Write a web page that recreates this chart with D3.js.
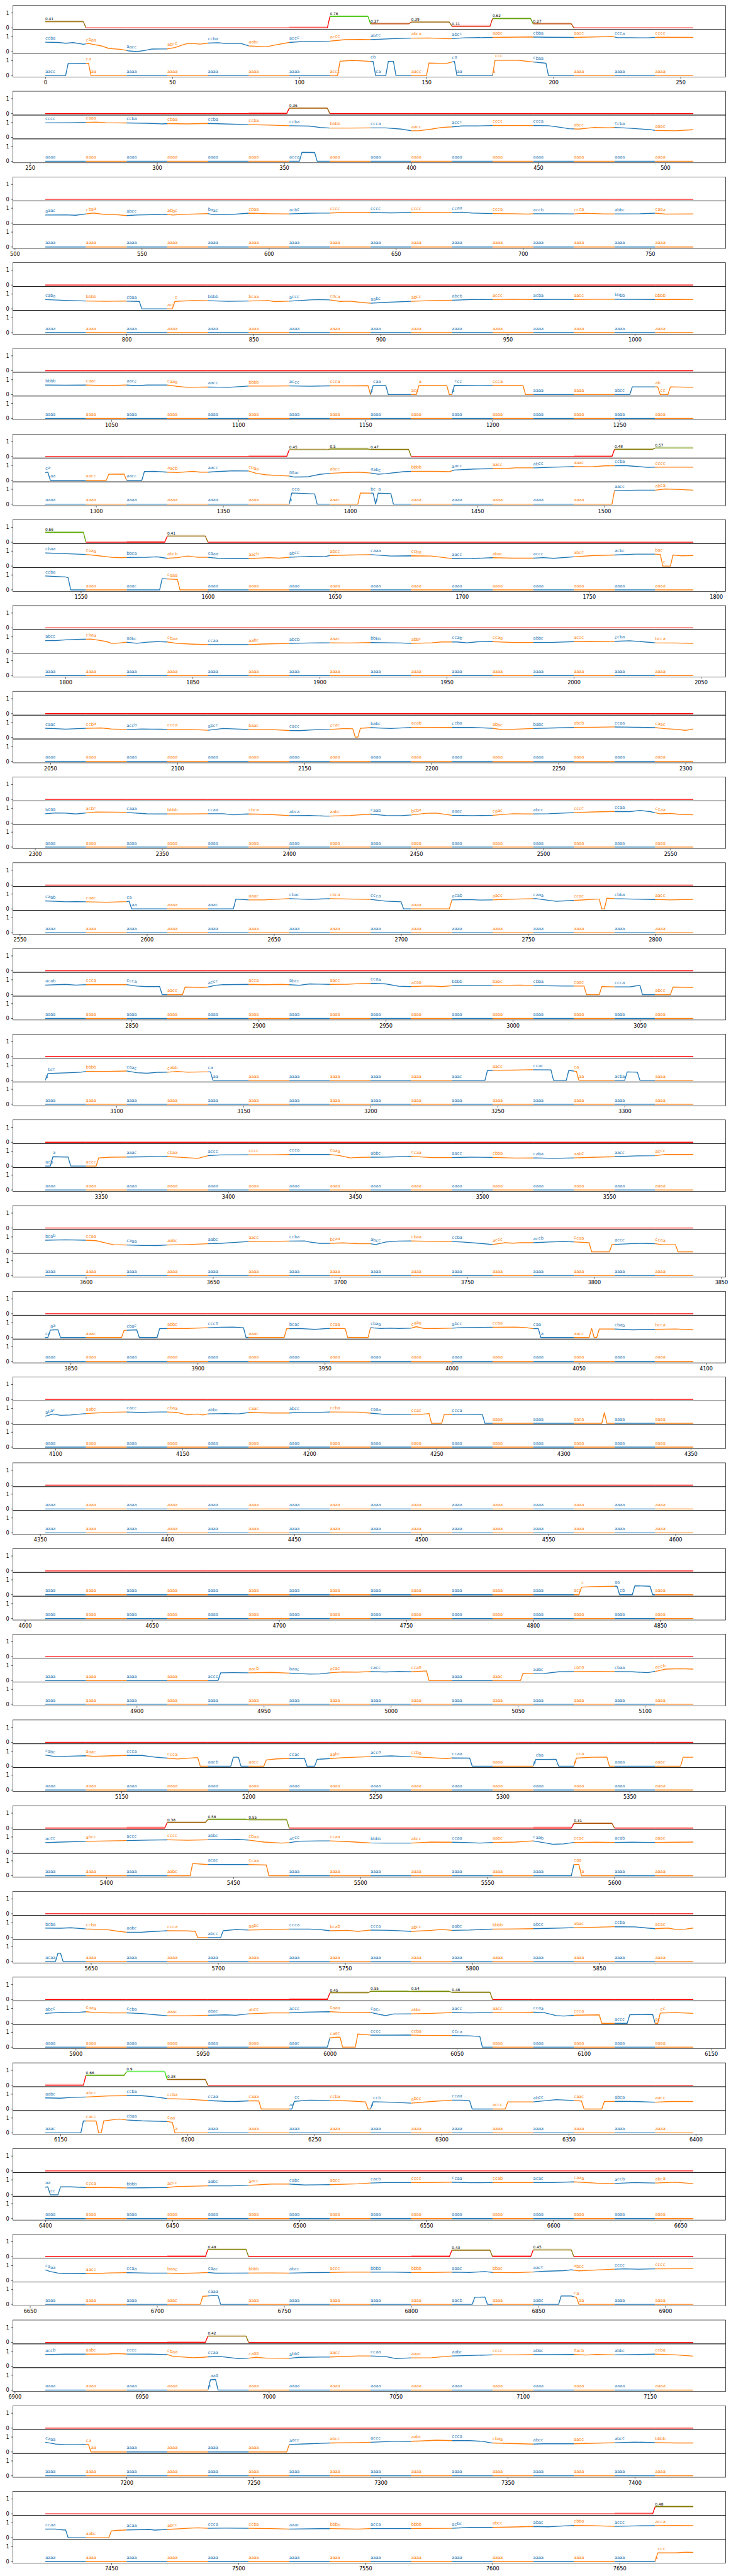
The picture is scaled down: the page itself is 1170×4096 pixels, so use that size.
<!DOCTYPE html>
<html><head><meta charset="utf-8">
<script src="https://cdn.jsdelivr.net/npm/d3@7"></script>
<style>body{margin:0;background:#fff} svg{display:block} text{font-family:"DejaVu Sans",sans-serif}</style>
</head><body>
<script>
// ---------- DATA ----------
const topScores = [
[0.41,0,0,0,0,0,0,0.76,0.27,0.39,0.11,0.62,0.27,0,0,0],
[0,0,0,0,0,0,0.36,0,0,0,0,0,0,0,0,0],
[0,0,0,0,0,0,0,0,0,0,0,0,0,0,0,0],
[0,0,0,0,0,0,0,0,0,0,0,0,0,0,0,0],
[0,0,0,0,0,0,0,0,0,0,0,0,0,0,0,0],
[0,0,0,0,0,0,0.45,0.5,0.47,0,0,0,0,0,0.48,0.57],
[0.66,0,0,0.41,0,0,0,0,0,0,0,0,0,0,0,0],
[0,0,0,0,0,0,0,0,0,0,0,0,0,0,0,0],
[0,0,0,0,0,0,0,0,0,0,0,0,0,0,0,0],
[0,0,0,0,0,0,0,0,0,0,0,0,0,0,0,0],
[0,0,0,0,0,0,0,0,0,0,0,0,0,0,0,0],
[0,0,0,0,0,0,0,0,0,0,0,0,0,0,0,0],
[0,0,0,0,0,0,0,0,0,0,0,0,0,0,0,0],
[0,0,0,0,0,0,0,0,0,0,0,0,0,0,0,0],
[0,0,0,0,0,0,0,0,0,0,0,0,0,0,0,0],
[0,0,0,0,0,0,0,0,0,0,0,0,0,0,0,0],
[0,0,0,0,0,0,0,0,0,0,0,0,0,0,0,0],
[0,0,0,0,0,0,0,0,0,0,0,0,0,0,0,0],
[0,0,0,0,0,0,0,0,0,0,0,0,0,0,0,0],
[0,0,0,0,0,0,0,0,0,0,0,0,0,0,0,0],
[0,0,0,0,0,0,0,0,0,0,0,0,0,0,0,0],
[0,0,0,0.38,0.58,0.55,0,0,0,0,0,0,0,0.31,0,0],
[0,0,0,0,0,0,0,0,0,0,0,0,0,0,0,0],
[0,0,0,0,0,0,0,0.45,0.55,0.54,0.48,0,0,0,0,0],
[0,0.66,0.9,0.38,0,0,0,0,0,0,0,0,0,0,0,0],
[0,0,0,0,0,0,0,0,0,0,0,0,0,0,0,0],
[0,0,0,0,0.49,0,0,0,0,0,0.43,0,0.45,0,0,0],
[0,0,0,0,0.42,0,0,0,0,0,0,0,0,0,0,0],
[0,0,0,0,0,0,0,0,0,0,0,0,0,0,0,0],
[0,0,0,0,0,0,0,0,0,0,0,0,0,0,0,0.48]
];
const topPink = [[6],[5],[],[],[],[5,13],[2],[],[],[],[],[],[],[],[],[],[],[],[],[],[],[2,12],[],[6],[0],[],[3,9,11],[3],[],[14]];

const allA = "aaaa aaaa aaaa aaaa aaaa aaaa aaaa aaaa aaaa aaaa aaaa aaaa aaaa aaaa aaaa aaaa";
const flat = [[0,0],[255,0]];

const midLines = [
[[0,.64],[5,.62],[8,.57],[11,.61],[15,.50],[17,.55],[22,.39],[25,.22],[30,.15],[33,.05],[36,.01],[39,.08],[42,.18],[48,.19],[51,.28],[55,.51],[57,.56],[61,.51],[64,.58],[68,.60],[71,.55],[77,.55],[80,.39],[87,.33],[91,.47],[96,.62],[101,.68],[112,.71],[115,.76],[118,.81],[124,.82],[128,.81],[136,.87],[144,.91],[151,.92],[159,.87],[165,.93],[176,.96],[191,.99],[197,.97],[208,.96],[223,1.02],[225,.95],[237,.93],[241,.97],[255,.96]],
[[0,.98],[10,.99],[16,1.01],[20,1.03],[24,.99],[32,.97],[40,.95],[46,.91],[48,.93],[56,.91],[64,.94],[72,.90],[80,.86],[88,.83],[96,.79],[104,.76],[108,.67],[112,.63],[120,.63],[128,.64],[134,.64],[140,.56],[144,.45],[147,.45],[152,.56],[156,.67],[160,.71],[164,.77],[170,.77],[176,.80],[192,.80],[198,.79],[203,.67],[206,.59],[210,.56],[216,.67],[222,.65],[224,.67],[230,.62],[238,.52],[240,.47],[248,.45],[255,.52]],
[[0,.55],[8,.56],[12,.53],[16,.62],[19,.68],[24,.57],[28,.57],[32,.51],[36,.55],[48,.59],[50,.55],[56,.60],[64,.64],[66,.57],[72,.57],[80,.67],[88,.63],[96,.62],[104,.67],[112,.68],[116,.71],[128,.71],[136,.69],[144,.71],[152,.71],[160,.70],[164,.74],[168,.68],[176,.64],[184,.63],[190,.61],[192,.63],[200,.63],[208,.62],[212,.66],[220,.62],[234,.63],[240,.67],[244,.61],[255,.62]],
[[0,.62],[8,.57],[16,.53],[24,.51],[30,.53],[37,.50],[38,0],[50,0],[51,.50],[58,.56],[64,.55],[72,.51],[80,.53],[88,.56],[90,.49],[96,.52],[104,.60],[108,.62],[112,.60],[116,.50],[120,.52],[124,.44],[128,.38],[134,.44],[144,.51],[152,.56],[160,.58],[168,.63],[176,.62],[184,.65],[192,.63],[200,.64],[208,.62],[216,.65],[224,.65],[240,.63],[248,.64],[255,.62]],
[[0,.64],[8,.63],[16,.64],[24,.60],[32,.64],[36,.60],[40,.64],[48,.64],[52,.55],[56,.49],[64,.51],[72,.49],[80,.57],[88,.57],[96,.58],[104,.56],[112,.59],[120,.59],[127,.60],[128,0],[129,.6],[134,.6],[135,0],[146,0],[147,.6],[158,.6],[159,0],[160,0],[161,.62],[176,.60],[188,.60],[189,0],[230,0],[231,.52],[241,.52],[242,0],[245,0],[246,.52],[255,.49]],
[[0,.52],[1,.55],[2,0],[24,0],[25,.41],[31,.42],[32,0],[38,0],[39,.59],[43,.60],[48,.55],[52,.52],[58,.60],[61,.55],[64,.55],[69,.60],[74,.64],[80,.63],[83,.47],[87,.37],[93,.31],[96,.29],[98,.22],[103,.23],[108,.40],[112,.47],[117,.51],[123,.55],[128,.49],[131,.41],[134,.45],[141,.58],[144,.60],[154,.60],[159,.58],[161,.69],[169,.76],[176,.78],[182,.80],[185,.84],[193,.84],[200,.88],[208,.92],[215,.91],[220,.97],[228,.99],[233,.93],[237,.87],[241,.88],[255,.88]],
[[0,.88],[8,.83],[16,.78],[20,.71],[26,.59],[30,.56],[32,.58],[40,.59],[44,.62],[48,.52],[52,.57],[56,.67],[60,.59],[64,.59],[68,.52],[72,.51],[80,.50],[88,.57],[92,.53],[96,.59],[104,.65],[110,.63],[112,.71],[120,.74],[128,.77],[136,.67],[144,.69],[152,.67],[160,.50],[168,.51],[176,.56],[184,.53],[192,.53],[196,.57],[200,.52],[208,.62],[216,.71],[224,.74],[232,.80],[240,.80],[242,.78],[243,0],[246,0],[247,.74],[250,.69],[255,.71]],
[[0,.75],[4,.75],[8,.80],[14,.84],[18,.85],[20,.80],[24,.69],[26,.57],[28,.57],[32,.64],[36,.57],[40,.64],[44,.68],[48,.66],[52,.56],[58,.51],[64,.48],[80,.48],[86,.52],[96,.56],[104,.59],[112,.60],[120,.59],[128,.62],[136,.60],[140,.59],[144,.56],[152,.60],[156,.66],[162,.66],[166,.60],[170,.67],[176,.68],[184,.62],[192,.62],[200,.63],[208,.68],[214,.70],[218,.69],[224,.70],[230,.74],[236,.66],[240,.60],[248,.59],[255,.56]],
[[0,.62],[4,.59],[8,.56],[14,.60],[16,.62],[22,.64],[26,.57],[32,.53],[38,.57],[42,.56],[48,.55],[56,.55],[64,.49],[70,.60],[80,.54],[88,.54],[96,.47],[100,.46],[106,.52],[112,.54],[118,.60],[121,.58],[122,.02],[123,.02],[124,.62],[128,.66],[136,.60],[144,.68],[152,.68],[160,.67],[168,.68],[176,.62],[180,.52],[184,.55],[192,.60],[200,.64],[208,.68],[216,.69],[224,.71],[232,.69],[240,.66],[244,.59],[248,.55],[252,.48],[255,.57]],
[[0,.64],[4,.69],[8,.68],[12,.62],[16,.69],[20,.75],[28,.74],[32,.72],[40,.63],[48,.62],[56,.62],[64,.64],[70,.64],[74,.56],[78,.61],[80,.62],[88,.59],[96,.51],[104,.52],[110,.48],[112,.48],[120,.52],[128,.61],[134,.52],[140,.51],[144,.55],[150,.67],[154,.68],[160,.53],[168,.51],[176,.53],[184,.64],[190,.62],[198,.64],[208,.71],[216,.76],[224,.79],[230,.78],[234,.86],[238,.78],[242,.63],[246,.66],[250,.59],[255,.56]],
[[0,.54],[4,.51],[8,.48],[12,.49],[16,.48],[24,.45],[32,.49],[33,.52],[34,0],[74,0],[75,.66],[80,.61],[86,.61],[96,.69],[104,.64],[112,.69],[121,.66],[128,.64],[134,.52],[140,.48],[141,0],[159,0],[160,.61],[167,.63],[171,.60],[176,.61],[185,.66],[193,.69],[201,.51],[208,.57],[217,.66],[218,.66],[219,0],[220,0],[221,.72],[224,.69],[231,.66],[241,.63],[246,.61],[255,.64]],
[[0,.64],[8,.69],[12,.64],[16,.67],[32,.67],[36,.58],[40,.54],[45,.54],[46,0],[54,0],[55,.51],[62,.49],[64,.51],[67,.63],[70,.67],[80,.69],[86,.67],[93,.69],[96,.67],[100,.63],[104,.72],[112,.69],[119,.70],[124,.75],[130,.76],[134,.72],[139,.57],[144,.54],[148,.57],[152,.58],[156,.54],[160,.60],[167,.61],[176,.61],[182,.63],[187,.64],[193,.61],[204,.58],[212,.58],[213,0],[218,0],[219,.54],[224,.52],[230,.52],[234,.63],[235,0],[246,0],[247,.51],[255,.49]],
[[0,0],[1,.45],[4,.48],[10,.52],[14,.55],[16,.60],[24,.60],[32,.63],[36,.52],[40,.48],[44,.54],[48,.55],[52,.60],[56,.55],[62,.57],[65,.57],[66,0],[173,0],[174,.67],[185,.69],[191,.72],[199,.70],[200,0],[205,0],[206,.67],[209,.60],[210,0],[228,0],[229,.57],[233,.55],[234,0],[255,0]],
[[0,0],[2,0],[3,.63],[8,.61],[9,.61],[10,0],[20,0],[21,.55],[26,.60],[32,.61],[41,.63],[48,.64],[54,.58],[60,.52],[64,.70],[69,.75],[80,.76],[89,.76],[96,.78],[112,.78],[116,.70],[120,.55],[123,.58],[128,.60],[135,.61],[144,.66],[152,.57],[160,.57],[167,.60],[176,.58],[185,.54],[193,.55],[200,.52],[208,.55],[217,.60],[224,.63],[233,.69],[240,.70],[244,.78],[255,.78]],
[[0,.78],[8,.81],[16,.78],[20,.75],[25,.54],[27,.48],[32,.46],[38,.43],[44,.42],[48,.46],[56,.49],[64,.54],[69,.57],[75,.64],[80,.69],[89,.70],[96,.72],[102,.73],[104,.66],[108,.57],[112,.57],[117,.60],[123,.55],[128,.54],[130,.49],[134,.66],[139,.72],[144,.73],[152,.70],[160,.69],[164,.66],[171,.57],[176,.49],[181,.61],[184,.58],[187,.61],[192,.61],[198,.66],[204,.69],[209,.66],[214,.61],[215,0],[222,0],[223,.49],[230,.54],[235,.57],[240,.54],[243,.48],[248,.48],[249,0],[255,0]],
[[0,0],[1,0],[2,.5],[4,.52],[5,.52],[6,0],[30,0],[31,.48],[36,.52],[37,0],[44,0],[45,.60],[48,.61],[56,.61],[64,.66],[69,.69],[74,.70],[78,.66],[79,0],[94,0],[95,.60],[100,.61],[106,.55],[111,.61],[118,.61],[119,0],[127,0],[128,.66],[132,.61],[136,.63],[139,.61],[144,.63],[146,.73],[149,.61],[154,.61],[160,.63],[164,.67],[176,.69],[185,.70],[189,.67],[192,.60],[194,.61],[195,0],[214,0],[215,.61],[216,0],[217,0],[218,.57],[224,.57],[231,.52],[240,.55],[248,.58],[255,.52]],
[[0,.47],[3,.62],[6,.54],[10,.56],[16,.65],[25,.74],[32,.76],[38,.72],[41,.75],[48,.76],[52,.72],[56,.57],[60,.62],[62,.56],[64,.63],[71,.65],[76,.63],[80,.72],[89,.69],[96,.69],[100,.74],[108,.74],[112,.76],[123,.75],[128,.68],[134,.59],[144,.60],[148,.60],[151,.65],[152,0],[156,0],[157,.59],[163,.60],[172,.59],[173,0],[219,0],[220,.71],[221,0],[255,0]],
[[0,0],[255,0]],
[[0,0],[210,0],[211,.51],[215,.54],[224,.57],[225,.57],[226,0],[231,0],[232,.60],[238,.57],[239,0],[255,0]],
[[0,0],[68,0],[69,.51],[74,.52],[80,.51],[89,.54],[96,.49],[104,.43],[108,.44],[112,.51],[117,.57],[123,.56],[128,.60],[134,.57],[139,.61],[144,.58],[150,.64],[151,0],[187,0],[188,.48],[192,.45],[196,.46],[202,.58],[208,.60],[217,.61],[224,.60],[231,.58],[237,.52],[241,.64],[244,.76],[250,.79],[255,.76]],
[[0,.75],[4,.64],[10,.67],[16,.70],[19,.66],[25,.69],[32,.72],[38,.72],[43,.61],[48,.54],[52,.48],[59,.57],[60,.57],[61,0],[73,0],[74,.6],[76,.6],[77,0],[86,0],[87,.42],[91,.49],[96,.52],[102,.52],[103,0],[106,0],[107,.46],[112,.51],[117,.57],[128,.64],[136,.69],[144,.63],[152,.57],[158,.51],[160,.55],[167,.54],[168,0],[192,0],[193,.45],[201,.46],[202,0],[208,0],[209,.54],[215,.60],[221,.61],[222,0],[250,0],[251,.6],[255,.6]],
[[0,.62],[6,.66],[16,.71],[25,.74],[32,.76],[41,.79],[48,.81],[56,.78],[64,.81],[76,.84],[80,.79],[86,.66],[93,.59],[96,.62],[100,.72],[108,.74],[112,.74],[119,.69],[123,.65],[128,.60],[134,.59],[144,.59],[152,.66],[160,.65],[167,.62],[171,.59],[176,.63],[185,.66],[192,.74],[196,.62],[200,.51],[204,.54],[208,.63],[217,.65],[224,.63],[231,.65],[240,.63],[248,.65],[255,.66]],
[[0,.64],[6,.63],[10,.66],[16,.58],[25,.52],[29,.42],[32,.36],[38,.36],[41,.40],[48,.46],[56,.45],[59,.42],[60,0],[69,0],[70,.46],[75,.54],[80,.51],[89,.54],[96,.57],[104,.57],[108,.54],[112,.46],[119,.49],[123,.42],[128,.51],[136,.49],[144,.42],[152,.49],[156,.55],[160,.49],[167,.51],[176,.57],[185,.58],[192,.60],[200,.63],[208,.67],[217,.70],[224,.73],[232,.72],[237,.64],[240,.60],[245,.64],[248,.55],[252,.57],[255,.64]],
[[0,.67],[6,.73],[12,.72],[16,.78],[19,.73],[25,.70],[32,.70],[38,.66],[43,.58],[48,.51],[56,.51],[64,.54],[71,.57],[75,.54],[80,.64],[89,.70],[96,.70],[102,.75],[112,.78],[119,.72],[128,.73],[132,.58],[134,.52],[137,.63],[144,.64],[152,.67],[160,.72],[167,.70],[176,.72],[185,.72],[192,.75],[196,.73],[201,.52],[204,.49],[209,.55],[218,.57],[219,0],[229,0],[230,.58],[239,.6],[240,0],[241,0],[242,.69],[248,.72],[255,.67]],
[[0,.75],[6,.73],[10,.78],[16,.81],[25,.88],[32,.90],[38,.90],[43,.82],[48,.70],[56,.66],[64,.57],[71,.52],[75,.51],[80,.55],[84,.55],[85,0],[97,0],[98,.52],[104,.6],[112,.58],[119,.55],[126,.48],[127,0],[128,0],[129,.49],[136,.46],[144,.40],[152,.51],[160,.60],[164,.60],[167,.55],[168,0],[181,0],[182,.48],[192,.48],[201,.63],[208,.58],[211,.54],[212,0],[219,0],[220,.51],[226,.52],[232,.51],[240,.46],[246,.51],[255,.51]],
[[0,.51],[1,.53],[2,0],[5,0],[6,.54],[10,.53],[16,.49],[25,.49],[32,.46],[38,.47],[48,.49],[52,.56],[56,.57],[64,.60],[73,.60],[80,.63],[89,.72],[96,.72],[102,.66],[112,.68],[123,.74],[128,.79],[134,.82],[152,.82],[160,.85],[167,.81],[176,.82],[200,.82],[208,.87],[217,.78],[224,.76],[232,.82],[240,.79],[248,.84],[255,.75]],
[[0,.71],[2,.60],[5,.50],[8,.46],[12,.46],[16,.47],[19,.46],[25,.51],[32,.53],[41,.50],[48,.50],[52,.47],[60,.51],[64,.54],[67,.49],[74,.50],[89,.51],[96,.50],[104,.53],[112,.54],[119,.56],[137,.56],[144,.54],[152,.54],[160,.56],[167,.54],[173,.60],[176,.54],[185,.53],[192,.57],[196,.62],[204,.66],[207,.72],[210,.65],[217,.71],[224,.76],[228,.78],[233,.76],[240,.78],[255,.79]],
[[0,.78],[8,.81],[16,.81],[25,.82],[28,.85],[32,.82],[41,.81],[48,.78],[50,.68],[52,.65],[58,.57],[62,.60],[64,.63],[69,.65],[73,.57],[76,.51],[80,.54],[83,.60],[87,.54],[96,.53],[100,.60],[112,.62],[123,.69],[128,.69],[134,.65],[138,.51],[144,.56],[152,.57],[160,.69],[167,.72],[176,.76],[185,.76],[192,.78],[200,.78],[208,.79],[213,.75],[217,.79],[224,.76],[231,.78],[240,.81],[248,.76],[255,.68]],
[[0,.65],[4,.53],[8,.49],[12,.49],[17,.50],[18,0],[95,0],[96,.50],[102,.54],[112,.60],[123,.63],[128,.65],[137,.71],[144,.72],[148,.74],[154,.79],[160,.76],[167,.76],[172,.71],[176,.60],[185,.56],[192,.53],[196,.55],[208,.55],[217,.59],[224,.62],[232,.66],[240,.63],[248,.60],[255,.60]],
[[0,.58],[4,.58],[7,.52],[8,.52],[9,0],[25,0],[26,.45],[28,.49],[32,.52],[41,.55],[43,.51],[48,.55],[56,.63],[60,.66],[64,.63],[71,.64],[80,.63],[89,.61],[96,.58],[112,.61],[123,.58],[128,.61],[139,.61],[160,.63],[167,.69],[176,.69],[185,.72],[192,.75],[198,.73],[204,.79],[208,.82],[215,.81],[224,.76],[232,.79],[240,.81],[248,.82],[255,.81]]
];

const midLabels = [
"ccba cbaa aacc abcc ccba aabc accc accc abcc abca abcc aabc cbba aacc ccca cccc",
"cccc caaa ccba cbaa ccba ccba ccba bbbb ccca aacc accc cccc ccca abcc ccba aaac",
"aaac cbaa abcc abbc baac cbaa acbc cccc cccc cccc ccaa ccca accb ccca abbc caaa",
"caba bbbb cbaa accc bbbb bcaa accc caca aabc abcc abcb accc acba aacc bbbb bbbb",
"bbbb caac aacc caaa aacc bbbb accc ccca ccaa acca accc ccca aaaa aaaa abcc abcc",
"caaa aacc aacc aacb aacc cbaa aaac abcc aabc bbbb aacc aacc abcc aaac ccba cccc",
"cbaa cbaa bbca abcb caaa aacb abcc abcc caaa ccba aacc abac accc abcc acbc bacc",
"abcc cbaa aabc cbaa ccaa aabc abcb aaac bbbb abbc ccab ccaa abbc accc ccba bcca",
"caac ccba accb ccca abcc baac cacc ccac babc acab ccba abbc babc abcb ccaa caac",
"bcaa acbc caaa bbbb ccaa cbca abca aabc caab bcba aaac caac abcc cccc ccaa ccaa",
"caab caac caaa aaaa aaac aaac cbac cbca ccca aaaa acab aacc caaa ccac cbba aacc",
"acab ccca ccca aacc accc acca abcc aacc ccaa acaa bbbb babc cbba caac ccca abcc",
"abcc bbbb caac cabb caaa aaaa aaaa aaaa aaaa aaaa aaac aacc ccac caaa acba aaaa",
"acba accc aaac cbaa accc cccc ccca cbaa abbc ccaa aacc cbba caba aabc aacc accc",
"bcab ccaa caaa aabc aabc aacc ccba bcaa abcc cbaa ccba accc accb ccaa accc ccaa",
"ccaa aaac cbac abbc ccca aaac bcac ccaa cbaa caaa abcc ccba caaa aacc cbab bcca",
"abac aabc cacc cbaa abbc caac abcc ccba caaa ccac ccca aaaa aaaa aaca aaaa aaaa",
allA,
"aaaa aaaa aaaa aaaa aaaa aaaa aaaa aaaa aaaa aaaa aaaa aaaa aaaa accc aacb aaaa",
"aaaa aaaa aaaa aaaa accc aacb baac acac cacc ccaa aaaa aaac aabc cbca cbaa accb",
"cabc aaac ccca ccca aacb aacc ccac aabc acca ccba ccaa aaaa acba acca aaaa aaac",
"accc abcc accc cccc abbc cbaa accc ccaa bbbb abcc ccaa aabc caab ccac acab aaac",
"bcba ccba aabc ccca abcc aabc ccca bcab ccca abcc aabc bbbb abcc abac ccba acac",
"abcc caaa ccba aaac abac abcc accc caaa cacc abbc aacc aacc ccaa ccca accc accc",
"aabc abcc ccba ccba ccaa caaa accc ccba accb abcc ccaa accc abcc caac abca aacc",
"aacc ccca bbbb accc aabc aacc cabc abcc cacb cccc ccaa ccab acac caaa accb abca",
"caaa aacc ccaa baac caac bbbb abcc accc bbbb bbbb aaac bbac aacc abcc cccc cccc",
"accb aabc cccc cbaa ccaa caaa abbc aacc ccaa aaac aabc cccc abbc aacb abbc ccba",
"caaa caaa aaaa aaaa aaaa aaaa aacc abcc accc aabc ccca cbaa abcc aacc abcc bbbb",
"ccaa aabc acaa abcc ccca ccba aaac bbbb acca bbbb acbc abcc abac cbba accc acca"
];

const botLines = [
[[0,0],[8,0],[9,.81],[17,.82],[18,0],[115,0],[116,.96],[121,1.02],[127,.96],[129,.95],[130,0],[134,0],[135,.95],[137,.95],[138,0],[150,0],[151,.84],[155,.82],[158,.82],[161,.95],[162,0],[176,0],[177,1.03],[186,1.03],[191,.93],[197,.83],[198,0],[255,0]],
[[0,0],[100,0],[101,.6],[106,.59],[107,0],[255,0]],
flat, flat, flat,
[[0,0],[96,0],[97,.75],[106,.69],[107,0],[123,0],[124,.75],[128,.74],[129,.74],[130,0],[131,.74],[136,.71],[137,0],[223,0],[224,.91],[233,.94],[240,.94],[244,1.02],[250,.98],[255,.94]],
[[0,.93],[8,.87],[9,.82],[10,0],[45,0],[46,.75],[52,.70],[53,0],[255,0]],
flat, flat, flat, flat, flat, flat, flat, flat, flat, flat, flat, flat, flat, flat,
[[0,0],[57,0],[58,.82],[63,.76],[69,.75],[80,.75],[87,.72],[88,0],[207,0],[208,.75],[210,.75],[211,0],[255,0]],
[[0,0],[4,0],[5,.55],[6,.55],[7,0],[255,0]],
[[0,0],[111,0],[112,.63],[115,.67],[116,.67],[117,0],[122,0],[123,.88],[128,.81],[135,.81],[143,.82],[148,.79],[160,.78],[167,.76],[171,.72],[172,0],[255,0]],
[[0,0],[14,0],[15,.8],[20,.8],[21,0],[22,0],[23,.8],[26,.87],[29,.93],[32,.87],[38,.81],[43,.79],[48,.76],[50,.71],[51,0],[255,0]],
flat,
[[0,0],[61,0],[62,.54],[63,.55],[66,.59],[68,.58],[69,0],[168,0],[169,.47],[173,.49],[174,0],[202,0],[203,.56],[207,.56],[209,.47],[210,0],[255,0]],
[[0,0],[64,0],[65,.69],[67,.71],[68,0],[255,0]],
flat,
[[0,0],[240,0],[241,.58],[248,.58],[252,.63],[255,.61]]
];

const botLabels = [
"aacc caaa aaaa aaaa aaaa aaaa aaaa accc cbca aacc caaa accc cbaa aaaa aaaa aaaa",
"aaaa aaaa aaaa aaaa aaaa aaaa acca aaaa aaaa aaaa aaaa aaaa aaaa aaaa aaaa aaaa",
allA, allA, allA,
"aaaa aaaa aaaa aaaa aaaa aaaa acca aaac bcca aaaa aaaa aaaa aaaa aaaa aacc abca",
"ccba aaaa aaac caaa aaaa aaaa aaaa aaaa aaaa aaaa aaaa aaaa aaaa aaaa aaaa aaaa",
allA, allA, allA, allA, allA, allA, allA, allA, allA, allA, allA, allA, allA, allA,
"aaaa aaaa aaaa aabc acac ccaa aaaa aaaa aaaa aaaa aaaa aaaa aaaa caaa aaaa aaaa",
"acaa aaaa aaaa aaaa aaaa aaaa aaaa aaaa aaaa aaaa aaaa aaaa aaaa aaaa aaaa aaaa",
"aaaa aaaa aaaa aaaa aaaa aaaa aaac caac cccc ccba ccca aaaa aaaa aaaa aaaa aaaa",
"aaac cacc cbaa caaa aaaa aaaa aaaa aaaa aaaa aaaa aaaa aaaa aaaa aaaa aaaa aaaa",
allA,
"aaaa aaaa aaaa aaac caaa aaaa aaaa aaaa aaaa aaaa aacb aaaa aabc caaa aaaa aaaa",
allA, allA,
"aaaa aaaa aaaa aaaa aaaa aaaa aaaa aaaa aaaa aaaa aaaa aaaa aaaa aaaa aaaa accc"
];

// ---------- LAYOUT ----------
const W = 2000, H = 7000, S = 0.585;
const L = 35, R = 1972, PT = 15, PITCH = 233, SH = 64.8;
const SEG = 16, SPAN = 256;
const blue = "#1f77b4", orange = "#ff7f0e";
const LW = 2.3;

const svg = d3.select("body").append("svg")
  .attr("width", W * S).attr("height", H * S)
  .attr("viewBox", `0 0 ${W} ${H}`);
svg.append("rect").attr("width", W).attr("height", H).attr("fill", "#fff");

function interp(pts, u) {
  for (let i = 0; i < pts.length - 1; i++) {
    const a = pts[i], b = pts[i + 1];
    if (u >= a[0] && u <= b[0]) {
      const t = b[0] === a[0] ? 0 : (u - a[0]) / (b[0] - a[0]);
      return a[1] + t * (b[1] - a[1]);
    }
  }
  return pts[pts.length - 1][1];
}
function scoreColor(v) { return d3.rgb(Math.round(255 * (1 - v)), Math.round(255 * v), 0).toString(); }

for (let k = 0; k < topScores.length; k++) {
  const x0 = SPAN * k;
  const x = d3.scaleLinear().domain([x0 - 12.75, x0 + 267.75]).range([L, R]);
  const g = svg.append("g").attr("transform", `translate(0,${PT + PITCH * k})`);
  const ys = [0, 1, 2].map(j => d3.scaleLinear().domain([-0.1, 1.5]).range([SH * (j + 1), SH * j]));

  const defs = g.append("defs");
  ["e", "o"].forEach((nm, p) => {
    const cp = defs.append("clipPath").attr("id", `c${nm}${k}`);
    for (let i = p; i < 16; i += 2) {
      cp.append("rect").attr("x", x(x0 + SEG * i)).attr("y", -5)
        .attr("width", x(x0 + SEG * i + SEG) - x(x0 + SEG * i)).attr("height", SH * 3 + 10);
    }
  });

  // ---- top subplot: score steps
  const sc = topScores[k];
  const y0 = ys[0];
  const lg = d3.line().x(d => x(d[0])).y(d => y0(d[1]));
  topPink[k].forEach(i => {
    g.append("path").attr("d", lg([[x0 + SEG * i, 0.03], [x0 + SEG * i + 15, 0.03]]))
      .attr("fill", "none").attr("stroke", "#ff0000").attr("stroke-opacity", 0.3).attr("stroke-width", 5);
  });
  for (let i = 0; i < 16; i++) {
    const v = sc[i];
    const pts = [[x0 + SEG * i, v], [x0 + SEG * i + 15, v]];
    if (i < 15) pts.push([x0 + SEG * i + SEG, sc[i + 1]]);
    if (v > 0) {
      g.append("path").attr("d", lg([[x0 + SEG * i, v + 0.03], [x0 + SEG * i + 15, v + 0.03]]))
        .attr("fill", "none").attr("stroke", scoreColor(v)).attr("stroke-opacity", 0.22).attr("stroke-width", 5);
    }
    g.append("path").attr("d", lg(pts)).attr("fill", "none")
      .attr("stroke", scoreColor(v)).attr("stroke-width", LW).attr("stroke-linejoin", "round");
    if (v > 0) {
      g.append("text").attr("x", x(x0 + SEG * i)).attr("y", y0(v + 0.09))
        .attr("font-size", 10).attr("fill", "#000").text(String(v));
    }
  }

  // ---- middle and bottom subplots
  [[midLines, midLabels, 1], [botLines, botLabels, 2]].forEach(([lines, labs, j]) => {
    const pts = lines[k], y = ys[j];
    const gen = d3.line().x(d => x(x0 + d[0])).y(d => y(d[1]));
    ["e", "o"].forEach((nm, p) => {
      g.append("path").attr("d", gen(pts)).attr("fill", "none")
        .attr("stroke", p ? orange : blue).attr("stroke-width", LW)
        .attr("stroke-linejoin", "round").attr("clip-path", `url(#c${nm}${k})`);
    });
    labs[k].split(" ").forEach((w, i) => {
      for (let c = 0; c < w.length; c++) {
        const u = SEG * i + c;
        g.append("text").attr("x", x(x0 + u)).attr("y", y(interp(pts, u) + 0.18))
          .attr("font-size", 12).attr("fill", i % 2 ? orange : blue).text(w[c]);
      }
    });
  });

  // ---- frames and y ticks
  for (let j = 0; j < 3; j++) {
    g.append("rect").attr("x", L).attr("y", SH * j).attr("width", R - L).attr("height", SH)
      .attr("fill", "none").attr("stroke", "#000").attr("stroke-width", 1.1);
    [0, 1].forEach(t => {
      const yy = ys[j](t);
      g.append("line").attr("x1", L - 5).attr("x2", L).attr("y1", yy).attr("y2", yy)
        .attr("stroke", "#000").attr("stroke-width", 1.1);
      g.append("text").attr("x", L - 10).attr("y", yy).attr("dy", "0.36em")
        .attr("text-anchor", "end").attr("font-size", 14).attr("fill", "#000").text(t);
    });
  }
  // ---- x axis
  const ax = g.append("g").attr("transform", `translate(0,${SH * 3})`)
    .call(d3.axisBottom(x).tickValues(d3.range(Math.ceil((x0 - 12.75) / 50) * 50, x0 + 267.75, 50))
      .tickSize(5).tickPadding(5).tickFormat(d3.format("d")));
  ax.select(".domain").remove();
  ax.selectAll("line").attr("stroke-width", 1.1);
  ax.selectAll("text").attr("font-size", 14).attr("font-family", "DejaVu Sans");
}
</script>
</body></html>
